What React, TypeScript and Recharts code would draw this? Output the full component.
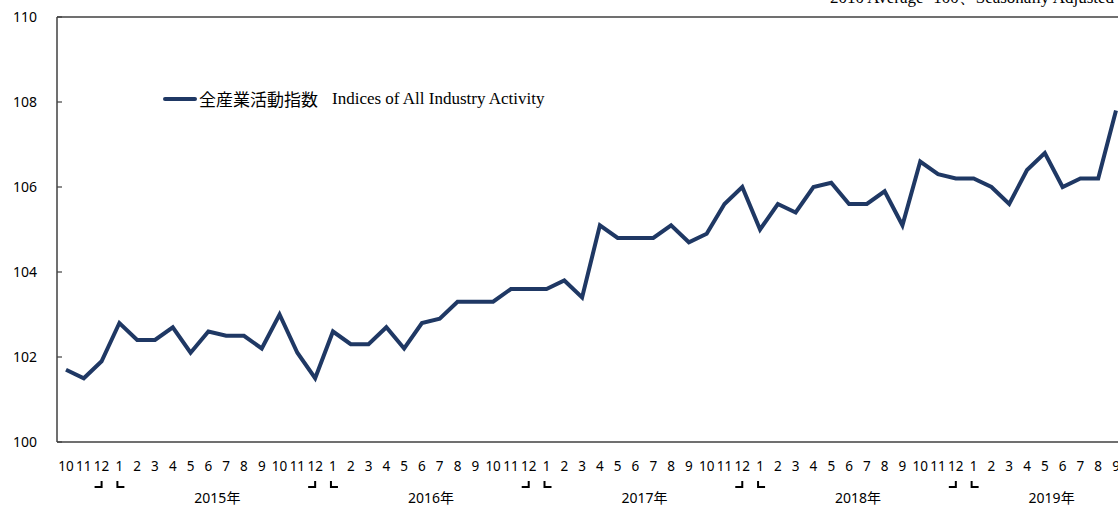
import React from "react";
import { LineChart, Line, XAxis, YAxis, ReferenceLine, Legend, Customized } from "recharts";

// 2014年10月 ～ 2019年9月
const months = [
  "10", "11", "12",
  "1", "2", "3", "4", "5", "6", "7", "8", "9", "10", "11", "12",
  "1", "2", "3", "4", "5", "6", "7", "8", "9", "10", "11", "12",
  "1", "2", "3", "4", "5", "6", "7", "8", "9", "10", "11", "12",
  "1", "2", "3", "4", "5", "6", "7", "8", "9", "10", "11", "12",
  "1", "2", "3", "4", "5", "6", "7", "8", "9",
];

const activityIndex = [
  101.7, 101.5, 101.9,
  102.8, 102.4, 102.4, 102.7, 102.1, 102.6, 102.5, 102.5, 102.2, 103.0, 102.1, 101.5,
  102.6, 102.3, 102.3, 102.7, 102.2, 102.8, 102.9, 103.3, 103.3, 103.3, 103.6, 103.6,
  103.6, 103.8, 103.4, 105.1, 104.8, 104.8, 104.8, 105.1, 104.7, 104.9, 105.6, 106.0,
  105.0, 105.6, 105.4, 106.0, 106.1, 105.6, 105.6, 105.9, 105.1, 106.6, 106.3, 106.2,
  106.2, 106.0, 105.6, 106.4, 106.8, 106.0, 106.2, 106.2, 107.8,
];

const startYear = 2014;
const yTicks = [100, 102, 104, 106, 108, 110];

const seriesNameJa = "全産業活動指数";
const seriesNameEn = "Indices of All Industry Activity";
const headerNote = "2010 Average=100、Seasonally Adjusted";

const NAVY = "#1f3864";
const AXIS = "#404040";
const SANS = "'Noto Sans', 'Noto Sans CJK JP', sans-serif";
const SERIF = "'Liberation Serif', 'Times New Roman', serif";

let yr = startYear;
const data = months.map((m, i) => {
  if (m === "1" && i > 0) yr += 1;
  return { month: m, value: activityIndex[i], year: yr };
});
const lastYear = data[data.length - 1].year;

const MonthTick = (props: any) => {
  const { x, y, index } = props;
  const d = data[index];
  if (!d) return null;
  return (
    <g>
      <text x={x} y={y + 27} textAnchor="middle" fontSize={13.5} fontFamily={SANS} fill="#000">
        {d.month}
      </text>
      {d.month === "12" && (
        <path d={`M${x - 7},${y + 43} H${x} V${y + 37}`} stroke="#000" strokeWidth={2} fill="none" />
      )}
      {d.month === "1" && (
        <path d={`M${x - 2},${y + 37} V${y + 43} H${x + 5}`} stroke="#000" strokeWidth={2} fill="none" />
      )}
      {d.month === "6" && (
        <text
          x={d.year === lastYear ? x - 11 : x + 9}
          y={y + 59}
          textAnchor="middle"
          fontSize={14}
          fontFamily={SANS}
          fill="#000"
        >
          {d.year}年
        </text>
      )}
    </g>
  );
};

const ValueTick = (props: any) => {
  const { y, payload } = props;
  return (
    <g>
      <line x1={57} x2={62} y1={y} y2={y} stroke={AXIS} strokeWidth={1.2} />
      <text x={37} y={y + 5} textAnchor="end" fontSize={14} fontFamily={SANS} fill="#000">
        {payload.value}
      </text>
    </g>
  );
};

const LegendBox = () => (
  <div style={{ display: "flex", alignItems: "center", whiteSpace: "nowrap" }}>
    <span style={{ display: "inline-block", width: 34, height: 4, background: NAVY, borderRadius: 2 }} />
    <span style={{ fontFamily: "'Noto Sans CJK JP', sans-serif", fontSize: 17, marginLeft: 2, color: "#000" }}>
      {seriesNameJa}
    </span>
    <span style={{ fontFamily: SERIF, fontSize: 17, marginLeft: 14, color: "#000" }}>{seriesNameEn}</span>
  </div>
);

const HeaderNote = () => (
  <text x={830} y={23} fontSize={17} fontFamily={SERIF} fill="#000">
    {headerNote}
  </text>
);

export default function App() {
  return (
    <div style={{ width: 1118, height: 506, overflow: "hidden", position: "relative", background: "#fff" }}>
      <style>{"html,body{margin:0;padding:0;overflow:hidden;}"}</style>
      <div style={{ position: "absolute", left: 0, top: -20 }}>
        <LineChart width={1150} height={540} data={data} margin={{ top: 37, right: 25, bottom: 0, left: 0 }}>
          <XAxis
            dataKey="month"
            height={78}
            interval={0}
            padding={{ left: 9, right: 9 }}
            tick={<MonthTick />}
            tickLine={false}
            tickSize={0}
            axisLine={{ stroke: AXIS, strokeWidth: 1.5 }}
          />
          <YAxis
            width={57}
            domain={[100, 110]}
            ticks={yTicks}
            interval={0}
            tick={<ValueTick />}
            tickLine={false}
            axisLine={{ stroke: AXIS, strokeWidth: 1.5 }}
          />
          <ReferenceLine y={110} stroke={AXIS} strokeWidth={1.5} />
          <Line
            dataKey="value"
            name={seriesNameJa}
            stroke={NAVY}
            strokeWidth={4}
            dot={false}
            activeDot={false}
            isAnimationActive={false}
          />
          <Legend
            layout="horizontal"
            verticalAlign="middle"
            align="center"
            content={<LegendBox />}
            wrapperStyle={{ left: 163, top: 106, width: "auto" }}
          />
          <Customized component={HeaderNote} />
        </LineChart>
      </div>
    </div>
  );
}
